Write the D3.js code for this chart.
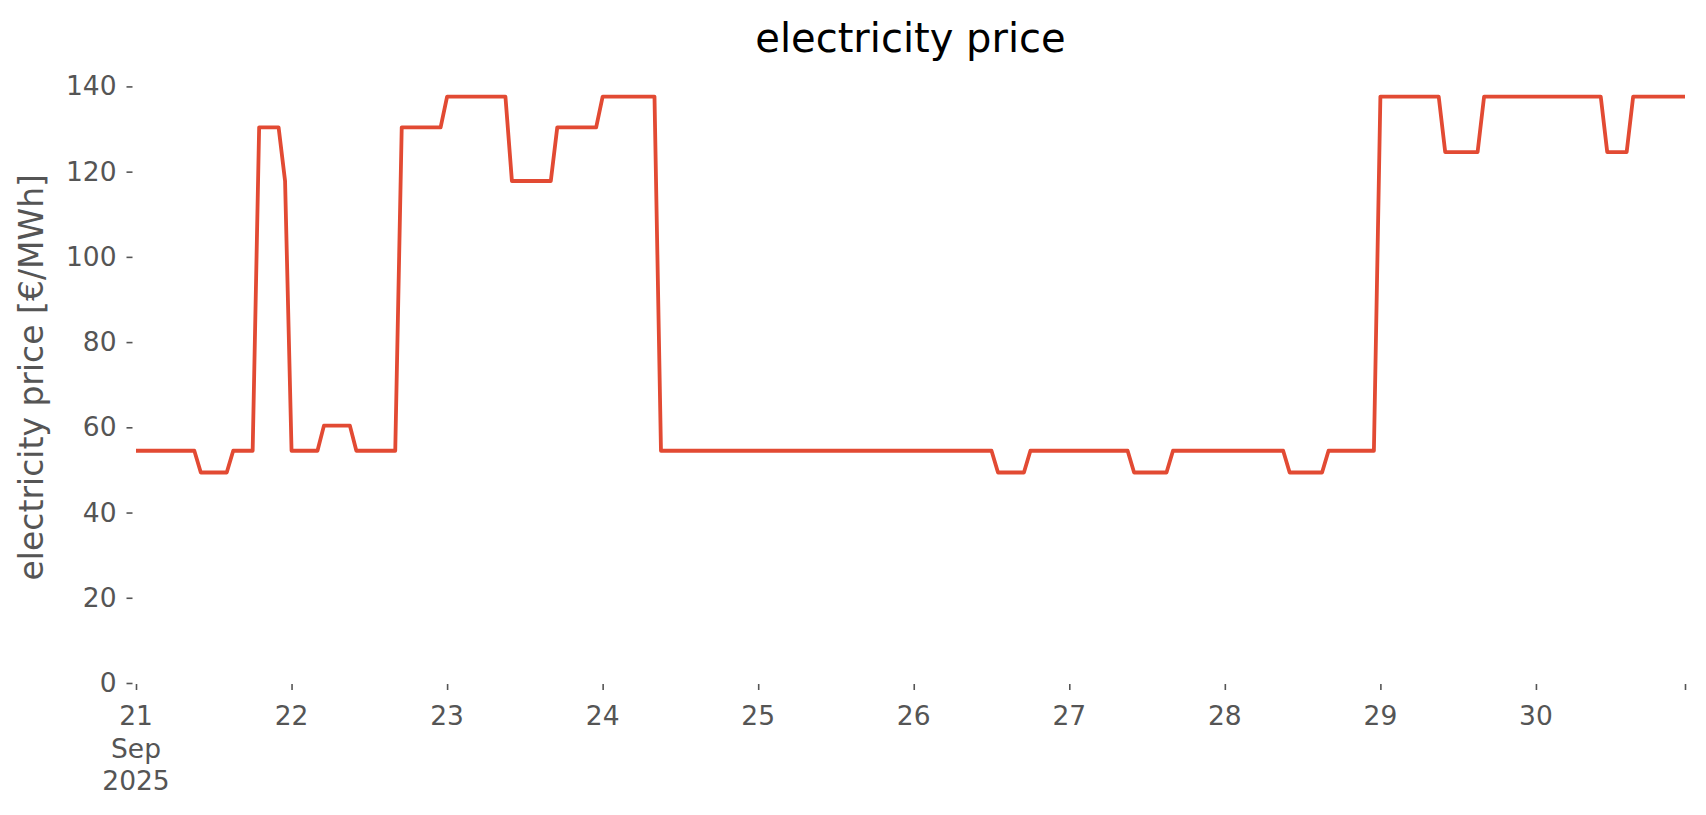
<!DOCTYPE html>
<html>
<head>
<meta charset="utf-8">
<script src="https://cdn.jsdelivr.net/npm/d3@7"></script>
<style>
  html, body { margin: 0; padding: 0; background: #ffffff; }
  svg { display: block; }
  text { font-family: "DejaVu Sans", sans-serif; }
</style>
</head>
<body>
<svg id="chart" width="1706" height="815"></svg>
<script>
// ---- data: hourly electricity price [€/MWh], 21–30 Sep 2025 (hours 0..23 each day) ----
const sep21 = [54.5,54.5,54.5,54.5,54.5,54.5,54.5,54.5,54.5,54.5,49.4,49.4,49.4,49.4,49.4,54.5,54.5,54.5,54.5,130.4,130.4,130.4,130.4,117.8];
const sep22 = [54.5,54.5,54.5,54.5,54.5,60.4,60.4,60.4,60.4,60.4,54.5,54.5,54.5,54.5,54.5,54.5,54.5,130.4,130.4,130.4,130.4,130.4,130.4,130.4];
const sep23 = [137.6,137.6,137.6,137.6,137.6,137.6,137.6,137.6,137.6,137.6,117.8,117.8,117.8,117.8,117.8,117.8,117.8,130.4,130.4,130.4,130.4,130.4,130.4,130.4];
const sep24 = [137.6,137.6,137.6,137.6,137.6,137.6,137.6,137.6,137.6,54.5,54.5,54.5,54.5,54.5,54.5,54.5,54.5,54.5,54.5,54.5,54.5,54.5,54.5,54.5];
const sep25 = [54.5,54.5,54.5,54.5,54.5,54.5,54.5,54.5,54.5,54.5,54.5,54.5,54.5,54.5,54.5,54.5,54.5,54.5,54.5,54.5,54.5,54.5,54.5,54.5];
const sep26 = [54.5,54.5,54.5,54.5,54.5,54.5,54.5,54.5,54.5,54.5,54.5,54.5,54.5,49.4,49.4,49.4,49.4,49.4,54.5,54.5,54.5,54.5,54.5,54.5];
const sep27 = [54.5,54.5,54.5,54.5,54.5,54.5,54.5,54.5,54.5,54.5,49.4,49.4,49.4,49.4,49.4,49.4,54.5,54.5,54.5,54.5,54.5,54.5,54.5,54.5];
const sep28 = [54.5,54.5,54.5,54.5,54.5,54.5,54.5,54.5,54.5,54.5,49.4,49.4,49.4,49.4,49.4,49.4,54.5,54.5,54.5,54.5,54.5,54.5,54.5,54.5];
const sep29 = [137.6,137.6,137.6,137.6,137.6,137.6,137.6,137.6,137.6,137.6,124.6,124.6,124.6,124.6,124.6,124.6,137.6,137.6,137.6,137.6,137.6,137.6,137.6,137.6];
const sep30 = [137.6,137.6,137.6,137.6,137.6,137.6,137.6,137.6,137.6,137.6,137.6,124.6,124.6,124.6,124.6,137.6,137.6,137.6,137.6,137.6,137.6,137.6,137.6,137.6];

const days = [21,22,23,24,25,26,27,28,29,30];
const dayValues = [sep21,sep22,sep23,sep24,sep25,sep26,sep27,sep28,sep29,sep30];

const xTickDays = [21,22,23,24,25,26,27,28,29,30];
const xTickLabels = [["21","Sep","2025"],["22"],["23"],["24"],["25"],["26"],["27"],["28"],["29"],["30"]];
const yTicks = [0,20,40,60,80,100,120,140];

const titleText = "electricity price";
const yLabelText = "electricity price [€/MWh]";

// ---- build series ----
const series = [];
dayValues.forEach((vals, i) => {
  vals.forEach((v, h) => {
    series.push({ t: new Date(Date.UTC(2025, 8, days[i], h)), v: v });
  });
});

const svg = d3.select("#chart");
const grey = "#555555";

const x = d3.scaleUtc()
  .domain(d3.extent(series, d => d.t))
  .range([136, 1685]);

const y = d3.scaleLinear()
  .domain([0, 143.5])
  .range([683, 71.5]);

// line
const line = d3.line().x(d => x(d.t)).y(d => y(d.v));
svg.append("defs").append("clipPath").attr("id", "clip")
  .append("rect").attr("x", x.range()[0]).attr("y", 0)
  .attr("width", x.range()[1] - x.range()[0]).attr("height", 815);

svg.append("path")
  .datum(series)
  .attr("clip-path", "url(#clip)")
  .attr("fill", "none")
  .attr("stroke", "#E24A33")
  .attr("stroke-width", 3.8)
  .attr("stroke-linejoin", "round")
  .attr("stroke-linecap", "square")
  .attr("d", line);

// y axis (ticks only, no spine)
const yAxis = d3.axisLeft(y).tickValues(yTicks).tickSize(6).tickPadding(10).tickFormat(d3.format("d"));
const gy = svg.append("g").attr("transform", "translate(132.5,0)").call(yAxis);
gy.select(".domain").remove();
gy.selectAll(".tick line").attr("stroke", grey).attr("stroke-width", 1.6);
gy.selectAll(".tick text").attr("fill", grey).style("font-size", "26.5px")
  .style("font-family", "'DejaVu Sans', sans-serif");

// x axis (ticks only, no spine)
const xTickDates = xTickDays.map(d => new Date(Date.UTC(2025, 8, d)));
const allXTicks = xTickDates.concat([x.domain()[1]]);
const xAxis = d3.axisBottom(x).tickValues(allXTicks).tickSize(6).tickFormat("");
const gx = svg.append("g").attr("transform", "translate(0,684)").call(xAxis);
gx.select(".domain").remove();
gx.selectAll(".tick line").attr("stroke", grey).attr("stroke-width", 1.6);

// multi-line x tick labels
const lbl = svg.append("g");
xTickDates.forEach((dt, i) => {
  const t = lbl.append("text")
    .attr("x", x(dt))
    .attr("y", 725)
    .attr("text-anchor", "middle")
    .attr("fill", grey)
    .style("font-size", "26.5px");
  xTickLabels[i].forEach((s, j) => {
    t.append("tspan").attr("x", x(dt)).attr("dy", j === 0 ? 0 : 32.5).text(s);
  });
});

// title
svg.append("text")
  .attr("x", (x.range()[0] + x.range()[1]) / 2)
  .attr("y", 52)
  .attr("text-anchor", "middle")
  .attr("fill", "#000000")
  .style("font-size", "40px")
  .text(titleText);

// y label
svg.append("text")
  .attr("transform", `translate(43,${(y.range()[0] + y.range()[1]) / 2}) rotate(-90)`)
  .attr("text-anchor", "middle")
  .attr("fill", grey)
  .style("font-size", "33px")
  .text(yLabelText);
</script>
</body>
</html>
